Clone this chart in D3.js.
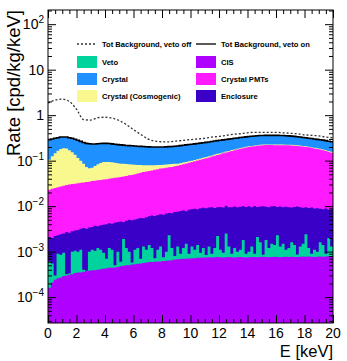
<!DOCTYPE html>
<html>
<head>
<meta charset="utf-8">
<script src="https://cdn.jsdelivr.net/npm/d3@7"></script>
<style>
  body { margin: 0; background: #fff; }
  svg { display: block; font-family: 'Liberation Sans', Arial, Helvetica, sans-serif; }
</style>
</head>
<body>
<svg id="chart" width="347" height="361"></svg>
<script>
// energy bins: 100 bins of 0.2 keV from 0 to 20 keV
const binWidth = 0.2

// stack tops as drawn by the THStack (cumulative), per bin
// CIS alone
const cisTop = [
  1.6e-4, 2.1e-4, 2.4e-4, 2.6e-4, 2.7e-4, 2.9e-4, 3.0e-4, 3.1e-4, 3.2e-4, 3.4e-4,
  3.5e-4, 3.5e-4, 3.6e-4, 3.7e-4, 3.8e-4, 3.9e-4, 3.9e-4, 4.0e-4, 4.1e-4, 4.2e-4,
  4.3e-4, 4.4e-4, 4.4e-4, 4.5e-4, 4.6e-4, 4.8e-4, 4.9e-4, 5.0e-4, 5.0e-4, 5.2e-4,
  5.3e-4, 5.4e-4, 5.5e-4, 5.6e-4, 5.8e-4, 5.9e-4, 5.9e-4, 6.0e-4, 6.1e-4, 6.1e-4,
  6.2e-4, 6.3e-4, 6.4e-4, 6.5e-4, 6.7e-4, 6.8e-4, 6.9e-4, 7.0e-4, 7.0e-4, 7.1e-4,
  7.2e-4, 7.2e-4, 7.3e-4, 7.3e-4, 7.4e-4, 7.4e-4, 7.5e-4, 7.4e-4, 7.5e-4, 7.6e-4,
  7.5e-4, 7.4e-4, 7.5e-4, 7.6e-4, 7.5e-4, 7.4e-4, 7.5e-4, 7.6e-4, 7.5e-4, 7.4e-4,
  7.5e-4, 7.6e-4, 7.6e-4, 7.5e-4, 7.6e-4, 7.7e-4, 7.6e-4, 7.5e-4, 7.6e-4, 7.7e-4,
  7.6e-4, 7.5e-4, 7.6e-4, 7.7e-4, 7.6e-4, 7.7e-4, 7.6e-4, 7.6e-4, 7.7e-4, 7.8e-4,
  7.7e-4, 7.8e-4, 7.7e-4, 7.6e-4, 7.7e-4, 7.8e-4, 7.7e-4, 7.8e-4, 7.9e-4, 7.8e-4
]
// CIS + Veto
const vetoTop = [
  6.0e-4, 5.5e-4, 3.0e-4, 9.0e-4, 8.5e-4, 9.5e-4, 3.2e-4, 3.3e-4, 10e-4, 10.5e-4,
  10e-4, 11e-4, 4.0e-4, 3.8e-4, 10e-4, 11e-4, 10.5e-4, 12e-4, 11e-4, 9.5e-4,
  7.0e-4, 12e-4, 11e-4, 5.0e-4, 10e-4, 6.0e-4, 19e-4, 12e-4, 10e-4, 5.8e-4,
  11e-4, 12e-4, 7.0e-4, 13e-4, 11e-4, 14e-4, 12e-4, 7.2e-4, 11e-4, 13e-4,
  7.5e-4, 10e-4, 23e-4, 12e-4, 8.0e-4, 13e-4, 9.0e-4, 12e-4, 15e-4, 9.0e-4,
  13e-4, 11e-4, 14e-4, 9.5e-4, 12e-4, 8.4e-4, 13e-4, 9.0e-4, 12e-4, 22e-4,
  11e-4, 9.5e-4, 25e-4, 13e-4, 9.0e-4, 12e-4, 10e-4, 11e-4, 18e-4, 9.0e-4,
  10e-4, 13e-4, 9.0e-4, 21e-4, 16e-4, 8.5e-4, 18e-4, 12e-4, 15e-4, 14e-4,
  23e-4, 13e-4, 15e-4, 11e-4, 12e-4, 16e-4, 14e-4, 8.6e-4, 13e-4, 15e-4,
  24e-4, 12e-4, 9.0e-4, 11e-4, 10e-4, 16e-4, 14e-4, 9.0e-4, 20e-4, 13e-4
]
// CIS + Veto + Enclosure
const enclosureTop = [
  2.1e-3, 2.0e-3, 2.2e-3, 2.3e-3, 2.4e-3, 2.5e-3, 2.7e-3, 2.6e-3, 2.8e-3, 2.9e-3,
  3.0e-3, 3.2e-3, 3.3e-3, 3.2e-3, 3.4e-3, 3.5e-3, 3.7e-3, 3.6e-3, 3.8e-3, 3.9e-3,
  4.0e-3, 4.2e-3, 4.1e-3, 4.3e-3, 4.5e-3, 4.6e-3, 4.5e-3, 4.8e-3, 5.0e-3, 4.9e-3,
  5.1e-3, 5.3e-3, 5.5e-3, 5.4e-3, 5.7e-3, 6.0e-3, 6.2e-3, 6.1e-3, 6.4e-3, 6.6e-3,
  6.5e-3, 6.9e-3, 7.1e-3, 7.0e-3, 7.4e-3, 7.5e-3, 7.8e-3, 8.0e-3, 7.7e-3, 8.3e-3,
  8.5e-3, 8.8e-3, 8.6e-3, 9.0e-3, 9.2e-3, 9.0e-3, 9.3e-3, 9.5e-3, 9.1e-3, 9.4e-3,
  9.6e-3, 9.3e-3, 10.2e-3, 9.5e-3, 9.4e-3, 9.8e-3, 9.5e-3, 9.7e-3, 10.0e-3, 9.6e-3,
  9.9e-3, 9.4e-3, 10.1e-3, 9.6e-3, 9.8e-3, 10.0e-3, 9.7e-3, 9.5e-3, 9.9e-3, 10.1e-3,
  9.6e-3, 9.8e-3, 9.4e-3, 9.7e-3, 9.5e-3, 9.3e-3, 9.6e-3, 9.8e-3, 9.4e-3, 9.2e-3,
  9.5e-3, 9.1e-3, 9.3e-3, 8.9e-3, 9.0e-3, 8.8e-3, 8.6e-3, 8.9e-3, 8.4e-3, 8.5e-3
]
// ... + Crystal PMTs
const pmtTop = [
  2.3e-2, 2.4e-2, 2.5e-2, 2.6e-2, 2.7e-2, 2.8e-2, 2.9e-2, 3.0e-2, 3.05e-2, 3.1e-2,
  3.2e-2, 3.25e-2, 3.3e-2, 3.4e-2, 3.45e-2, 3.55e-2, 3.6e-2, 3.7e-2, 3.75e-2, 3.85e-2,
  3.9e-2, 4.0e-2, 4.1e-2, 4.2e-2, 4.25e-2, 4.35e-2, 4.5e-2, 4.6e-2, 4.75e-2, 4.85e-2,
  5.0e-2, 5.2e-2, 5.4e-2, 5.6e-2, 5.8e-2, 5.9e-2, 6.1e-2, 6.3e-2, 6.5e-2, 6.7e-2,
  6.8e-2, 7.0e-2, 7.2e-2, 7.3e-2, 7.5e-2, 7.7e-2, 8.0e-2, 8.3e-2, 8.7e-2, 9.0e-2,
  9.3e-2, 9.7e-2, 10.1e-2, 10.5e-2, 10.9e-2, 11.3e-2, 11.8e-2, 12.3e-2, 12.9e-2, 13.4e-2,
  13.9e-2, 14.5e-2, 15.1e-2, 15.7e-2, 16.4e-2, 17.0e-2, 17.6e-2, 18.2e-2, 18.8e-2, 19.4e-2,
  20.0e-2, 20.4e-2, 20.8e-2, 21.2e-2, 21.6e-2, 21.9e-2, 22.0e-2, 22.0e-2, 22.0e-2, 21.9e-2,
  21.9e-2, 21.9e-2, 21.9e-2, 21.8e-2, 21.7e-2, 21.6e-2, 21.4e-2, 21.1e-2, 20.8e-2, 20.4e-2,
  20.0e-2, 19.6e-2, 19.1e-2, 18.6e-2, 18.1e-2, 17.5e-2, 16.9e-2, 16.3e-2, 15.6e-2, 15.0e-2
]
// ... + Crystal (Cosmogenic)
const cosmogenicTop = [
  10.5e-2, 12.5e-2, 14.5e-2, 16.5e-2, 18.0e-2, 18.8e-2, 18.5e-2, 17.0e-2, 15.4e-2, 13.5e-2,
  11.5e-2, 10.0e-2, 8.5e-2, 7.3e-2, 6.8e-2, 7.0e-2, 7.6e-2, 8.3e-2, 8.9e-2, 9.3e-2,
  9.4e-2, 9.3e-2, 9.2e-2, 9.0e-2, 8.8e-2, 8.6e-2, 8.5e-2, 8.4e-2, 8.3e-2, 8.2e-2,
  8.1e-2, 8.0e-2, 8.0e-2, 7.9e-2, 7.9e-2, 7.9e-2, 7.9e-2, 7.9e-2, 8.0e-2, 8.0e-2,
  8.1e-2, 8.2e-2, 8.3e-2, 8.4e-2, 8.5e-2, 8.6e-2, 8.8e-2, 9.1e-2, 9.4e-2, 9.7e-2,
  10.0e-2, 10.4e-2, 10.8e-2, 11.2e-2, 11.6e-2, 12.0e-2, 12.5e-2, 13.0e-2, 13.6e-2, 14.1e-2,
  14.6e-2, 15.2e-2, 15.8e-2, 16.4e-2, 17.1e-2, 17.7e-2, 18.3e-2, 18.9e-2, 19.5e-2, 20.1e-2,
  20.7e-2, 21.1e-2, 21.5e-2, 21.9e-2, 22.3e-2, 22.6e-2, 22.7e-2, 22.7e-2, 22.7e-2, 22.6e-2,
  22.6e-2, 22.6e-2, 22.6e-2, 22.5e-2, 22.4e-2, 22.3e-2, 22.1e-2, 21.8e-2, 21.5e-2, 21.1e-2,
  20.7e-2, 20.3e-2, 19.8e-2, 19.3e-2, 18.8e-2, 18.2e-2, 17.6e-2, 17.0e-2, 16.3e-2, 15.7e-2
]
// ... + Crystal = total background, veto on
const totalVetoOn = [
  0.29, 0.30, 0.31, 0.32, 0.33, 0.33, 0.33, 0.32, 0.31, 0.295,
  0.28, 0.265, 0.25, 0.24, 0.235, 0.232, 0.233, 0.236, 0.239, 0.24,
  0.24, 0.238, 0.234, 0.23, 0.225, 0.222, 0.219, 0.216, 0.214, 0.212,
  0.21, 0.208, 0.206, 0.204, 0.202, 0.201, 0.20, 0.20, 0.20, 0.20,
  0.20, 0.201, 0.203, 0.205, 0.207, 0.21, 0.214, 0.218, 0.222, 0.226,
  0.23, 0.234, 0.238, 0.243, 0.247, 0.252, 0.258, 0.264, 0.27, 0.275,
  0.28, 0.286, 0.292, 0.298, 0.304, 0.31, 0.316, 0.322, 0.328, 0.334,
  0.34, 0.344, 0.348, 0.352, 0.356, 0.358, 0.36, 0.36, 0.36, 0.36,
  0.36, 0.358, 0.356, 0.354, 0.35, 0.346, 0.342, 0.336, 0.33, 0.324,
  0.318, 0.312, 0.306, 0.30, 0.294, 0.288, 0.282, 0.276, 0.268, 0.26
]
// total background, veto off (sampled every 0.5 keV)
const vetoOffE = [0, 0.5, 1, 1.5, 2, 2.5, 3, 3.5, 4, 4.5, 5, 5.5, 6, 6.5, 7, 7.5, 8, 8.5, 9, 9.5,
  10, 10.5, 11, 11.5, 12, 12.5, 13, 13.5, 14, 14.5, 15, 15.5, 16, 16.5, 17, 17.5, 18, 18.5, 19, 19.5, 20]
const totalVetoOff = [1.85, 2.15, 2.25, 2.0, 1.35, 0.80, 0.78, 0.88, 0.90, 0.86, 0.76, 0.62, 0.48, 0.38,
  0.30, 0.27, 0.26, 0.26, 0.27, 0.28, 0.29, 0.30, 0.31, 0.33, 0.34, 0.36, 0.38, 0.39, 0.41, 0.42,
  0.42, 0.42, 0.42, 0.41, 0.40, 0.39, 0.37, 0.36, 0.35, 0.33, 0.32]

const xTickValues = [0, 2, 4, 6, 8, 10, 12, 14, 16, 18, 20]
const yDecades = [-4, -3, -2, -1, 0, 1, 2]

const svg = d3.select('#chart')
const margin = { left: 48, right: 14, top: 10, bottom: 38 }
const width = 347
const height = 361

const x = d3.scaleLinear().domain([0, 20]).range([margin.left, width - margin.right])
const y = d3.scaleLog().domain([2.7e-5, 205]).range([height - margin.bottom, margin.top]).clamp(true)

// bins -> step points
function steps (vals) {
  let pts = []
  vals.forEach(function (v, i) {
    pts.push([i * binWidth, v])
    pts.push([(i + 1) * binWidth, v])
  })
  return pts
}

const area = d3.area()
  .x(function (d) { return x(d[0]) })
  .y0(y.range()[0])
  .y1(function (d) { return y(d[1]) })

const layers = [
  { vals: totalVetoOn, color: '#1e90ff' },
  { vals: cosmogenicTop, color: '#f8f88e' },
  { vals: pmtTop, color: '#ff1aff' },
  { vals: enclosureTop, color: '#3a00c8' },
  { vals: vetoTop, color: '#00d49c' },
  { vals: cisTop, color: '#b000ff' }
]

const plot = svg.append('g')
layers.forEach(function (l) {
  plot.append('path')
    .attr('d', area(steps(l.vals)))
    .attr('fill', l.color)
})

// solid total line (veto on)
plot.append('path')
  .attr('d', d3.line().x(function (d) { return x(d[0]) }).y(function (d) { return y(d[1]) })(steps(totalVetoOn)))
  .attr('fill', 'none')
  .attr('stroke', '#000')
  .attr('stroke-width', 1.6)

// dotted total line (veto off)
plot.append('path')
  .datum(vetoOffE.map(function (e, i) { return [e, totalVetoOff[i]] }))
  .attr('d', d3.line().x(function (d) { return x(d[0]) }).y(function (d) { return y(d[1]) }).curve(d3.curveMonotoneX))
  .attr('fill', 'none')
  .attr('stroke', '#333')
  .attr('stroke-width', 1.3)
  .attr('stroke-dasharray', '2,2')

// axes with ticks pointing inward (ROOT style), on all four sides
const minorX = d3.range(0, 20.01, 0.5).filter(function (v) { return v % 2 !== 0 })
let minorY = []
yDecades.forEach(function (d) {
  for (let k = 2; k <= 9; k++) minorY.push(k * Math.pow(10, d))
})
minorY.push(3e-5, 4e-5, 5e-5, 6e-5, 7e-5, 8e-5, 9e-5)
minorY = minorY.filter(function (v) { return v >= y.domain()[0] && v <= y.domain()[1] })
const majorY = yDecades.map(function (d) { return Math.pow(10, d) })

function addAxis (axis, tx, ty) {
  const g = svg.append('g').attr('transform', 'translate(' + tx + ',' + ty + ')').call(axis)
  g.selectAll('.domain').remove()
  g.selectAll('text').remove()
  g.selectAll('line').attr('stroke', '#000').attr('stroke-width', 1)
  return g
}

const bottomY = y.range()[0]
const topY = y.range()[1]
addAxis(d3.axisBottom(x).tickValues(xTickValues).tickSize(-8), 0, bottomY)
addAxis(d3.axisBottom(x).tickValues(minorX).tickSize(-4), 0, bottomY)
addAxis(d3.axisTop(x).tickValues(xTickValues).tickSize(-8), 0, topY)
addAxis(d3.axisTop(x).tickValues(minorX).tickSize(-4), 0, topY)
addAxis(d3.axisLeft(y).tickValues(majorY).tickSize(-8), x.range()[0], 0)
addAxis(d3.axisLeft(y).tickValues(minorY).tickSize(-4), x.range()[0], 0)
addAxis(d3.axisRight(y).tickValues(majorY).tickSize(-8), x.range()[1], 0)
addAxis(d3.axisRight(y).tickValues(minorY).tickSize(-4), x.range()[1], 0)

// frame
svg.append('rect')
  .attr('x', x.range()[0]).attr('y', topY)
  .attr('width', x.range()[1] - x.range()[0]).attr('height', bottomY - topY)
  .attr('fill', 'none').attr('stroke', '#000').attr('stroke-width', 1)

// tick labels
svg.append('g').selectAll('text')
  .data(xTickValues)
  .enter().append('text')
  .attr('x', function (d) { return x(d) })
  .attr('y', bottomY + 15)
  .attr('text-anchor', 'middle')
  .style('font-size', '14px')
  .text(function (d) { return d })

const yLab = svg.append('g').selectAll('text')
  .data(yDecades)
  .enter().append('text')
  .attr('x', x.range()[0] - 4)
  .attr('y', function (d) { return y(Math.pow(10, d)) + 5 })
  .attr('text-anchor', 'end')
  .style('font-size', '14px')
yLab.each(function (d) {
  const t = d3.select(this)
  if (d === 0) t.text('1')
  else if (d === 1) t.text('10')
  else {
    t.append('tspan').text('10')
    t.append('tspan').attr('dy', -6).style('font-size', '10px').text(d === 2 ? '2' : '\u2212' + (-d))
  }
})

// axis titles
svg.append('text')
  .attr('transform', 'translate(20,' + topY + ') rotate(-90)')
  .attr('text-anchor', 'end')
  .style('font-size', '18.5px')
  .text('Rate [cpd/kg/keV]')

svg.append('text')
  .attr('x', x.range()[1])
  .attr('y', 357)
  .attr('text-anchor', 'end')
  .style('font-size', '16.5px')
  .text('E [keV]')

// legend
const legendLeft = [
  { label: 'Tot Background, veto off', type: 'dotted' },
  { label: 'Veto', color: '#00d49c' },
  { label: 'Crystal', color: '#1e90ff' },
  { label: 'Crystal (Cosmogenic)', color: '#f8f88e' }
]
const legendRight = [
  { label: 'Tot Background, veto on', type: 'solid' },
  { label: 'CIS', color: '#b000ff' },
  { label: 'Crystal PMTs', color: '#ff1aff' },
  { label: 'Enclosure', color: '#3a00c8' }
]
const rowY = [44, 62, 79, 96]

function drawLegend (entries, x0) {
  const g = svg.append('g')
  entries.forEach(function (e, i) {
    const cy = rowY[i]
    if (e.type) {
      g.append('line')
        .attr('x1', x0).attr('x2', x0 + 20).attr('y1', cy).attr('y2', cy)
        .attr('stroke', e.type === 'dotted' ? '#333' : '#000')
        .attr('stroke-width', 1.3)
        .attr('stroke-dasharray', e.type === 'dotted' ? '2,2' : null)
    } else {
      g.append('rect')
        .attr('x', x0).attr('y', cy - 6).attr('width', 20).attr('height', 12)
        .attr('fill', e.color)
    }
    g.append('text')
      .attr('x', x0 + 25).attr('y', cy + 2.7)
      .style('font-size', '7.6px').style('font-weight', 'bold')
      .text(e.label)
  })
}
drawLegend(legendLeft, 77)
drawLegend(legendRight, 196)
</script>
</body>
</html>
